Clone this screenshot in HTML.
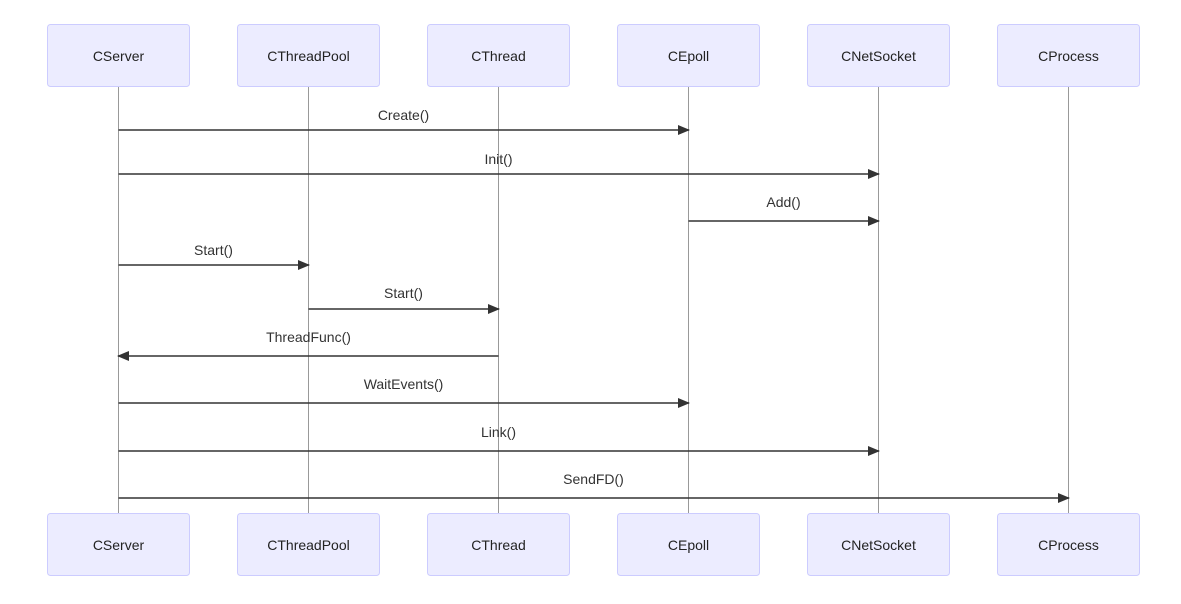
<!DOCTYPE html>
<html><head><meta charset="utf-8"><style>
html,body{margin:0;padding:0;background:#fff;}
svg{display:block;font-family:"Liberation Sans","DejaVu Sans",sans-serif;}
</style></head><body>
<svg width="1181" height="604" viewBox="0 0 1181 604" xmlns="http://www.w3.org/2000/svg">
<defs>
<marker id="a" markerWidth="12" markerHeight="10" refX="11" refY="5" orient="auto" markerUnits="userSpaceOnUse">
<path d="M0,0 L12,5 L0,10 z" fill="#333"/>
</marker>
</defs>
<g stroke="#999" stroke-width="1">
<line x1="118.5" y1="87" x2="118.5" y2="514"/>
<line x1="308.5" y1="87" x2="308.5" y2="514"/>
<line x1="498.5" y1="87" x2="498.5" y2="514"/>
<line x1="688.5" y1="87" x2="688.5" y2="514"/>
<line x1="878.5" y1="87" x2="878.5" y2="514"/>
<line x1="1068.5" y1="87" x2="1068.5" y2="514"/>
</g>
<g fill="#ECECFF" stroke="#CCCCFF" stroke-width="1">
<rect x="47.5" y="24.5" width="142" height="62" rx="3"/>
<rect x="237.5" y="24.5" width="142" height="62" rx="3"/>
<rect x="427.5" y="24.5" width="142" height="62" rx="3"/>
<rect x="617.5" y="24.5" width="142" height="62" rx="3"/>
<rect x="807.5" y="24.5" width="142" height="62" rx="3"/>
<rect x="997.5" y="24.5" width="142" height="62" rx="3"/>
<rect x="47.5" y="513.5" width="142" height="62" rx="3"/>
<rect x="237.5" y="513.5" width="142" height="62" rx="3"/>
<rect x="427.5" y="513.5" width="142" height="62" rx="3"/>
<rect x="617.5" y="513.5" width="142" height="62" rx="3"/>
<rect x="807.5" y="513.5" width="142" height="62" rx="3"/>
<rect x="997.5" y="513.5" width="142" height="62" rx="3"/>
</g>
<g font-size="14" fill="#222" text-anchor="middle">
<text x="118.5" y="61">CServer</text>
<text x="308.5" y="61">CThreadPool</text>
<text x="498.5" y="61">CThread</text>
<text x="688.5" y="61">CEpoll</text>
<text x="878.5" y="61">CNetSocket</text>
<text x="1068.5" y="61">CProcess</text>
<text x="118.5" y="550">CServer</text>
<text x="308.5" y="550">CThreadPool</text>
<text x="498.5" y="550">CThread</text>
<text x="688.5" y="550">CEpoll</text>
<text x="878.5" y="550">CNetSocket</text>
<text x="1068.5" y="550">CProcess</text>
</g>
<g stroke="#333" stroke-width="1.5" marker-end="url(#a)">
<line x1="118.5" y1="130" x2="689" y2="130"/>
<line x1="118.5" y1="174" x2="879" y2="174"/>
<line x1="688.5" y1="221" x2="879" y2="221"/>
<line x1="118.5" y1="265" x2="309" y2="265"/>
<line x1="308.5" y1="309" x2="499" y2="309"/>
<line x1="498.5" y1="356" x2="118" y2="356"/>
<line x1="118.5" y1="403" x2="689" y2="403"/>
<line x1="118.5" y1="451" x2="879" y2="451"/>
<line x1="118.5" y1="498" x2="1069" y2="498"/>
</g>
<g font-size="14" fill="#333" text-anchor="middle">
<text x="403.5" y="120">Create()</text>
<text x="498.5" y="164">Init()</text>
<text x="783.5" y="207">Add()</text>
<text x="213.5" y="255">Start()</text>
<text x="403.5" y="298">Start()</text>
<text x="308.5" y="342">ThreadFunc()</text>
<text x="403.5" y="389">WaitEvents()</text>
<text x="498.5" y="437">Link()</text>
<text x="593.5" y="484">SendFD()</text>
</g>
</svg>
</body></html>
